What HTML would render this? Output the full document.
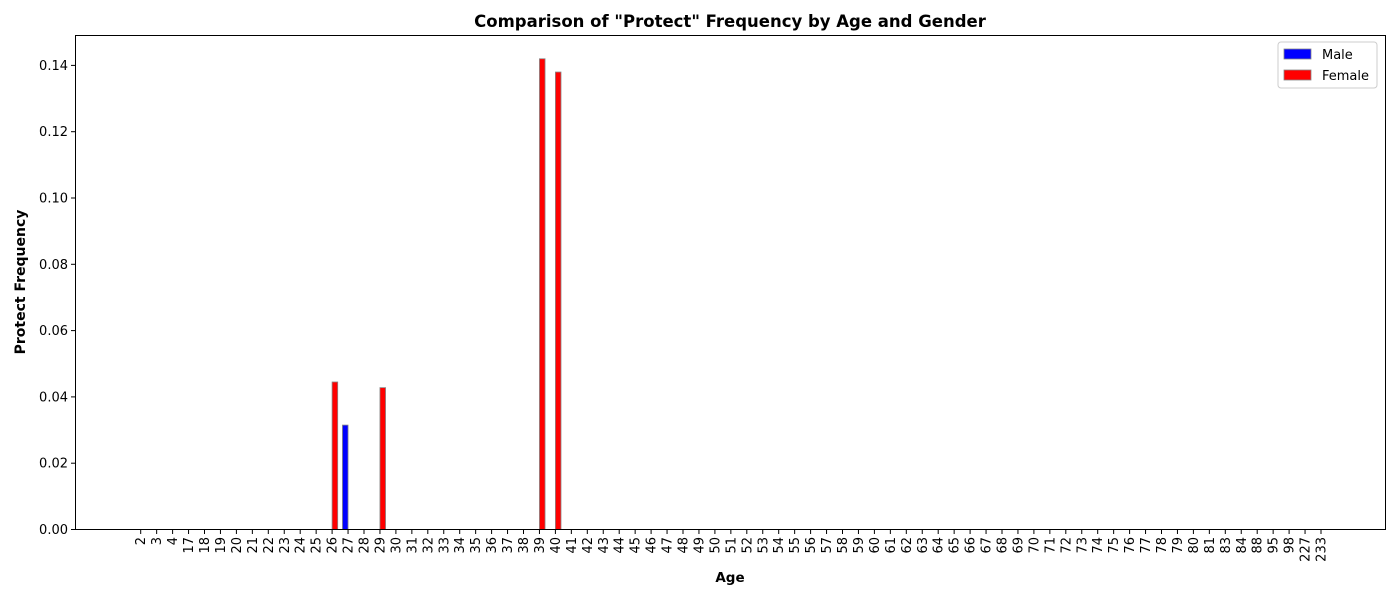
<!DOCTYPE html>
<html><head><meta charset="utf-8"><style>
body{margin:0;background:#fff;font-family:"Liberation Sans","DejaVu Sans",sans-serif;}
</style></head><body>
<svg id="chart" width="1400" height="600" xmlns="http://www.w3.org/2000/svg" font-family="DejaVu Sans, Liberation Sans, sans-serif">
<rect width="1400" height="600" fill="#fff"/>
<text x="730" y="27" text-anchor="middle" font-size="16.5" font-weight="bold">Comparison of "Protect" Frequency by Age and Gender</text>
<g id="plot"></g>
<rect x="75.5" y="35.5" width="1310" height="494" fill="none" stroke="#000" stroke-width="1"/>
<text x="730" y="582" text-anchor="middle" font-size="13.5" font-weight="bold">Age</text>
<text transform="translate(25,282) rotate(-90)" text-anchor="middle" font-size="14" font-weight="bold">Protect Frequency</text>
<g>
<rect x="1278" y="42" width="99" height="46" rx="3" fill="#fff" stroke="#ccc"/>
<rect x="1284" y="49" width="27" height="10" fill="#0000ff" stroke="#888" stroke-width="0.8"/>
<text x="1322" y="59" font-size="13">Male</text>
<rect x="1284" y="70" width="27" height="10" fill="#ff0000" stroke="#888" stroke-width="0.8"/>
<text x="1322" y="80" font-size="13">Female</text>
</g>
</svg>
<script>
const ages=[2,3,4,17,18,19,20,21,22,23,24,25,26,27,28,29,30,31,32,33,34,35,36,37,38,39,40,41,42,43,44,45,46,47,48,49,50,51,52,53,54,55,56,57,58,59,60,61,62,63,64,65,66,67,68,69,70,71,72,73,74,75,76,77,78,79,80,81,83,84,88,95,98,227,233];
const maleAges=[27];
const maleValues=[0.0315];
const femaleAges=[26,29,39,40];
const femaleValues=[0.0445,0.0428,0.142,0.138];
const yTicks=[0,0.02,0.04,0.06,0.08,0.10,0.12,0.14];
const yLabels=["0.00","0.02","0.04","0.06","0.08","0.10","0.12","0.14"];

const NS="http://www.w3.org/2000/svg";
const g=document.getElementById('plot');
const step=15.95, x0=140.7, bw=5.6;
const xs=i=>x0+i*step;
const ys=v=>529.5-v/0.02*66.3;
function mk(t,a){const e=document.createElementNS(NS,t);for(const k in a)e.setAttribute(k,a[k]);g.appendChild(e);return e;}
yTicks.forEach((v,i)=>{
  const y=ys(v);
  const t=mk('line',{x1:71,x2:75.5,y1:y,y2:y,stroke:'#000'});
  
  
  const l=mk('text',{x:68,y:y+4.5,'text-anchor':'end','font-size':'13'});
  l.textContent=yLabels[i];
  
  
});
ages.forEach((a,i)=>{
  const x=xs(i);
  const t=mk('line',{x1:x,x2:x,y1:529.5,y2:534,stroke:'#000'});
  
  
  const l=mk('text',{transform:`translate(${x+4.5},537) rotate(-90)`,'text-anchor':'end','font-size':'13'});
  l.textContent=a;
  
  
});
maleAges.forEach((a,j)=>{
  const x=xs(ages.indexOf(a));
  const y=ys(maleValues[j]);
  const b=mk('rect',{x:x-bw,y:y,width:bw,height:529.5-y,fill:'#0000ff',stroke:'#888','stroke-width':0.8});
  
  
});
femaleAges.forEach((a,j)=>{
  const x=xs(ages.indexOf(a));
  const y=ys(femaleValues[j]);
  const b=mk('rect',{x:x,y:y,width:bw,height:529.5-y,fill:'#ff0000',stroke:'#888','stroke-width':0.8});
  
  
});
</script>
</body></html>
